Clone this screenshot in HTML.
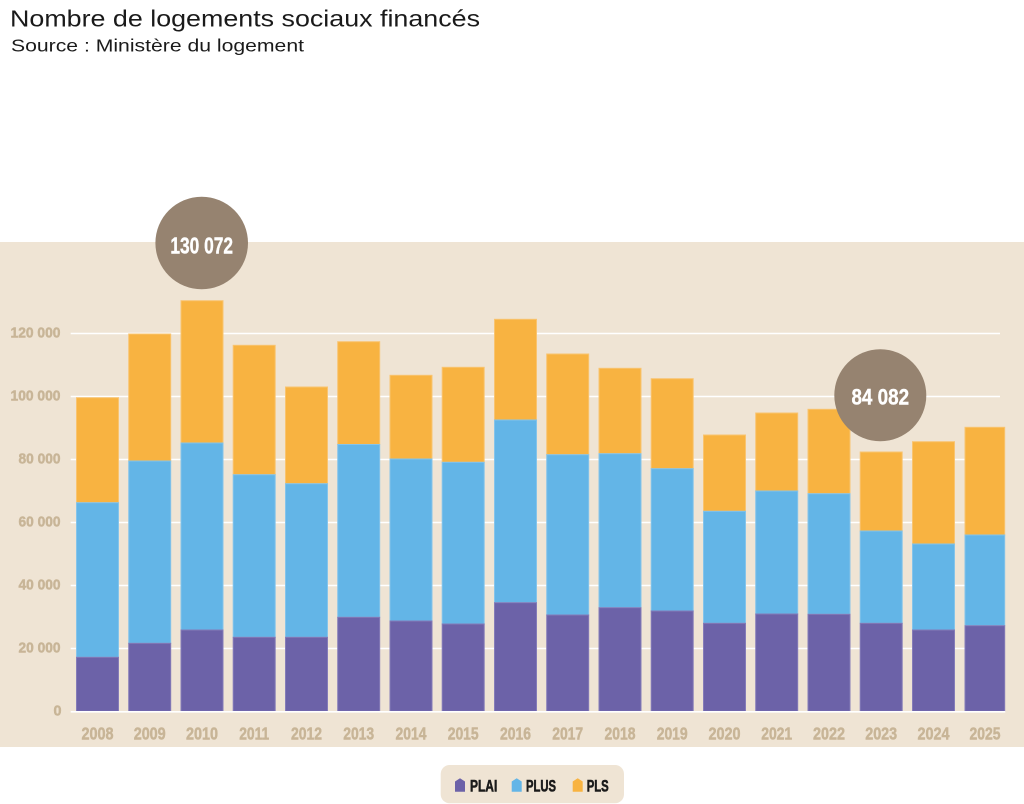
<!DOCTYPE html>
<html><head><meta charset="utf-8"><style>
html,body{margin:0;padding:0;background:#fff;}
svg{display:block;}
</style></head><body>
<svg width="1024" height="804" viewBox="0 0 1024 804" xmlns="http://www.w3.org/2000/svg" font-family="'Liberation Sans', sans-serif">
<rect x="0" y="0" width="1024" height="804" fill="#ffffff"/>
<text x="10" y="26.7" font-size="23.3" fill="#1a1a1a" textLength="470" lengthAdjust="spacingAndGlyphs">Nombre de logements sociaux financés</text>
<text x="11" y="51.7" font-size="17.3" fill="#1a1a1a" textLength="293" lengthAdjust="spacingAndGlyphs">Source : Ministère du logement</text>

<rect x="0" y="242" width="1024" height="505" fill="#efe4d4"/>

<g stroke="#ffffff" stroke-width="1.5">
<line x1="70.7" y1="333.5" x2="1000" y2="333.5"/>
<line x1="70.7" y1="396.5" x2="1000" y2="396.5"/>
<line x1="70.7" y1="459.5" x2="1000" y2="459.5"/>
<line x1="70.7" y1="522.5" x2="1000" y2="522.5"/>
<line x1="70.7" y1="585.5" x2="1000" y2="585.5"/>
<line x1="70.7" y1="648.5" x2="1000" y2="648.5"/>
</g>

<g font-weight="bold" font-size="15" fill="#c8b597" stroke="#c8b597" stroke-width="0.5" text-anchor="end">
<text x="60.5" y="337.5" textLength="50" lengthAdjust="spacingAndGlyphs">120 000</text>
<text x="60.5" y="400.5" textLength="50" lengthAdjust="spacingAndGlyphs">100 000</text>
<text x="60.5" y="463.5" textLength="42" lengthAdjust="spacingAndGlyphs">80 000</text>
<text x="60.5" y="526.5" textLength="42" lengthAdjust="spacingAndGlyphs">60 000</text>
<text x="60.5" y="589.5" textLength="42" lengthAdjust="spacingAndGlyphs">40 000</text>
<text x="60.5" y="652.5" textLength="42" lengthAdjust="spacingAndGlyphs">20 000</text>
<text x="61.5" y="715.5" textLength="8" lengthAdjust="spacingAndGlyphs">0</text>
</g>

<g id="bars" stroke-width="1">
<g>
<rect x="76.5" y="397.7" width="42" height="105" fill="#f8b341" stroke="#f9c470"/>
<rect x="76.5" y="502.7" width="42" height="154.6" fill="#63b5e7" stroke="#85c4ea"/>
<rect x="76.5" y="657.3" width="42" height="54" fill="#6c62a8" stroke="#857cb8"/>
</g>
<g>
<rect x="128.7" y="334" width="42" height="127" fill="#f8b341" stroke="#f9c470"/>
<rect x="128.7" y="461" width="42" height="182.3" fill="#63b5e7" stroke="#85c4ea"/>
<rect x="128.7" y="643.3" width="42" height="68" fill="#6c62a8" stroke="#857cb8"/>
</g>
<g>
<rect x="181" y="300.7" width="42" height="142.3" fill="#f8b341" stroke="#f9c470"/>
<rect x="181" y="443" width="42" height="187" fill="#63b5e7" stroke="#85c4ea"/>
<rect x="181" y="630" width="42" height="81.3" fill="#6c62a8" stroke="#857cb8"/>
</g>
<g>
<rect x="233.2" y="345.3" width="42" height="129.4" fill="#f8b341" stroke="#f9c470"/>
<rect x="233.2" y="474.7" width="42" height="162.6" fill="#63b5e7" stroke="#85c4ea"/>
<rect x="233.2" y="637.3" width="42" height="74" fill="#6c62a8" stroke="#857cb8"/>
</g>
<g>
<rect x="285.5" y="387" width="42" height="96.7" fill="#f8b341" stroke="#f9c470"/>
<rect x="285.5" y="483.7" width="42" height="153.6" fill="#63b5e7" stroke="#85c4ea"/>
<rect x="285.5" y="637.3" width="42" height="74" fill="#6c62a8" stroke="#857cb8"/>
</g>
<g>
<rect x="337.7" y="341.7" width="42" height="102.8" fill="#f8b341" stroke="#f9c470"/>
<rect x="337.7" y="444.5" width="42" height="172.8" fill="#63b5e7" stroke="#85c4ea"/>
<rect x="337.7" y="617.3" width="42" height="94" fill="#6c62a8" stroke="#857cb8"/>
</g>
<g>
<rect x="390" y="375.3" width="42" height="83.7" fill="#f8b341" stroke="#f9c470"/>
<rect x="390" y="459" width="42" height="162" fill="#63b5e7" stroke="#85c4ea"/>
<rect x="390" y="621" width="42" height="90.3" fill="#6c62a8" stroke="#857cb8"/>
</g>
<g>
<rect x="442.2" y="367.3" width="42" height="95" fill="#f8b341" stroke="#f9c470"/>
<rect x="442.2" y="462.3" width="42" height="161.7" fill="#63b5e7" stroke="#85c4ea"/>
<rect x="442.2" y="624" width="42" height="87.3" fill="#6c62a8" stroke="#857cb8"/>
</g>
<g>
<rect x="494.5" y="319.3" width="42" height="100.7" fill="#f8b341" stroke="#f9c470"/>
<rect x="494.5" y="420" width="42" height="182.7" fill="#63b5e7" stroke="#85c4ea"/>
<rect x="494.5" y="602.7" width="42" height="108.6" fill="#6c62a8" stroke="#857cb8"/>
</g>
<g>
<rect x="546.7" y="354" width="42" height="100.7" fill="#f8b341" stroke="#f9c470"/>
<rect x="546.7" y="454.7" width="42" height="160.3" fill="#63b5e7" stroke="#85c4ea"/>
<rect x="546.7" y="615" width="42" height="96.3" fill="#6c62a8" stroke="#857cb8"/>
</g>
<g>
<rect x="599" y="368.3" width="42" height="85.4" fill="#f8b341" stroke="#f9c470"/>
<rect x="599" y="453.7" width="42" height="154" fill="#63b5e7" stroke="#85c4ea"/>
<rect x="599" y="607.7" width="42" height="103.6" fill="#6c62a8" stroke="#857cb8"/>
</g>
<g>
<rect x="651.2" y="378.7" width="42" height="90" fill="#f8b341" stroke="#f9c470"/>
<rect x="651.2" y="468.7" width="42" height="142.3" fill="#63b5e7" stroke="#85c4ea"/>
<rect x="651.2" y="611" width="42" height="100.3" fill="#6c62a8" stroke="#857cb8"/>
</g>
<g>
<rect x="703.5" y="435" width="42" height="76.3" fill="#f8b341" stroke="#f9c470"/>
<rect x="703.5" y="511.3" width="42" height="112" fill="#63b5e7" stroke="#85c4ea"/>
<rect x="703.5" y="623.3" width="42" height="88" fill="#6c62a8" stroke="#857cb8"/>
</g>
<g>
<rect x="755.7" y="413" width="42" height="78" fill="#f8b341" stroke="#f9c470"/>
<rect x="755.7" y="491" width="42" height="123" fill="#63b5e7" stroke="#85c4ea"/>
<rect x="755.7" y="614" width="42" height="97.3" fill="#6c62a8" stroke="#857cb8"/>
</g>
<g>
<rect x="808" y="409.3" width="42" height="84.4" fill="#f8b341" stroke="#f9c470"/>
<rect x="808" y="493.7" width="42" height="120.6" fill="#63b5e7" stroke="#85c4ea"/>
<rect x="808" y="614.3" width="42" height="97" fill="#6c62a8" stroke="#857cb8"/>
</g>
<g>
<rect x="860.2" y="452" width="42" height="79" fill="#f8b341" stroke="#f9c470"/>
<rect x="860.2" y="531" width="42" height="92.3" fill="#63b5e7" stroke="#85c4ea"/>
<rect x="860.2" y="623.3" width="42" height="88" fill="#6c62a8" stroke="#857cb8"/>
</g>
<g>
<rect x="912.5" y="441.7" width="42" height="102.3" fill="#f8b341" stroke="#f9c470"/>
<rect x="912.5" y="544" width="42" height="86" fill="#63b5e7" stroke="#85c4ea"/>
<rect x="912.5" y="630" width="42" height="81.3" fill="#6c62a8" stroke="#857cb8"/>
</g>
<g>
<rect x="965" y="427.3" width="39.7" height="107.7" fill="#f8b341" stroke="#f9c470"/>
<rect x="965" y="535" width="39.7" height="90.7" fill="#63b5e7" stroke="#85c4ea"/>
<rect x="965" y="625.7" width="39.7" height="85.6" fill="#6c62a8" stroke="#857cb8"/>
</g>
</g>

<line x1="70.7" y1="711.8" x2="1005.3" y2="711.8" stroke="#ffffff" stroke-width="1.6"/>

<g font-weight="bold" font-size="17.5" fill="#c8b597" stroke="#c8b597" stroke-width="0.5" text-anchor="middle">
<text x="97.5" y="739.3" textLength="32" lengthAdjust="spacingAndGlyphs">2008</text>
<text x="149.7" y="739.3" textLength="32" lengthAdjust="spacingAndGlyphs">2009</text>
<text x="202" y="739.3" textLength="32" lengthAdjust="spacingAndGlyphs">2010</text>
<text x="254.2" y="739.3" textLength="30" lengthAdjust="spacingAndGlyphs">2011</text>
<text x="306.5" y="739.3" textLength="31" lengthAdjust="spacingAndGlyphs">2012</text>
<text x="358.7" y="739.3" textLength="31" lengthAdjust="spacingAndGlyphs">2013</text>
<text x="411" y="739.3" textLength="31" lengthAdjust="spacingAndGlyphs">2014</text>
<text x="463.2" y="739.3" textLength="31" lengthAdjust="spacingAndGlyphs">2015</text>
<text x="515.5" y="739.3" textLength="31" lengthAdjust="spacingAndGlyphs">2016</text>
<text x="567.7" y="739.3" textLength="31" lengthAdjust="spacingAndGlyphs">2017</text>
<text x="620" y="739.3" textLength="31" lengthAdjust="spacingAndGlyphs">2018</text>
<text x="672.2" y="739.3" textLength="31" lengthAdjust="spacingAndGlyphs">2019</text>
<text x="724.5" y="739.3" textLength="32" lengthAdjust="spacingAndGlyphs">2020</text>
<text x="776.7" y="739.3" textLength="31" lengthAdjust="spacingAndGlyphs">2021</text>
<text x="829" y="739.3" textLength="32" lengthAdjust="spacingAndGlyphs">2022</text>
<text x="881.2" y="739.3" textLength="32" lengthAdjust="spacingAndGlyphs">2023</text>
<text x="933.5" y="739.3" textLength="32" lengthAdjust="spacingAndGlyphs">2024</text>
<text x="985" y="739.3" textLength="31" lengthAdjust="spacingAndGlyphs">2025</text>
</g>

<circle cx="201.7" cy="243" r="46.3" fill="#968370"/>
<text x="201.7" y="253.3" font-weight="bold" font-size="23" fill="#ffffff" stroke="#ffffff" stroke-width="0.4" text-anchor="middle" textLength="62.7" lengthAdjust="spacingAndGlyphs">130 072</text>
<circle cx="880.3" cy="395.3" r="46" fill="#968370"/>
<text x="880.3" y="404.3" font-weight="bold" font-size="22.5" fill="#ffffff" stroke="#ffffff" stroke-width="0.4" text-anchor="middle" textLength="57.7" lengthAdjust="spacingAndGlyphs">84 082</text>

<rect x="440.7" y="765" width="183.3" height="38.3" rx="9" ry="9" fill="#efe4d4"/>
<polygon points="455,781.5 460,778.3 465,781.5 465,791.7 455,791.7" fill="#6c62a8"/>
<polygon points="511.7,781.5 516.7,778.3 521.7,781.5 521.7,791.7 511.7,791.7" fill="#63b5e7"/>
<polygon points="572.7,781.5 577.7,778.3 582.7,781.5 582.7,791.7 572.7,791.7" fill="#f8b341"/>
<g font-weight="bold" font-size="16.8" fill="#1a1a1a" stroke="#1a1a1a" stroke-width="0.6">
<text x="470" y="791.3" textLength="27.3" lengthAdjust="spacingAndGlyphs">PLAI</text>
<text x="526" y="791.3" textLength="30" lengthAdjust="spacingAndGlyphs">PLUS</text>
<text x="586.7" y="791.3" textLength="22" lengthAdjust="spacingAndGlyphs">PLS</text>
</g>
</svg>
</body></html>
